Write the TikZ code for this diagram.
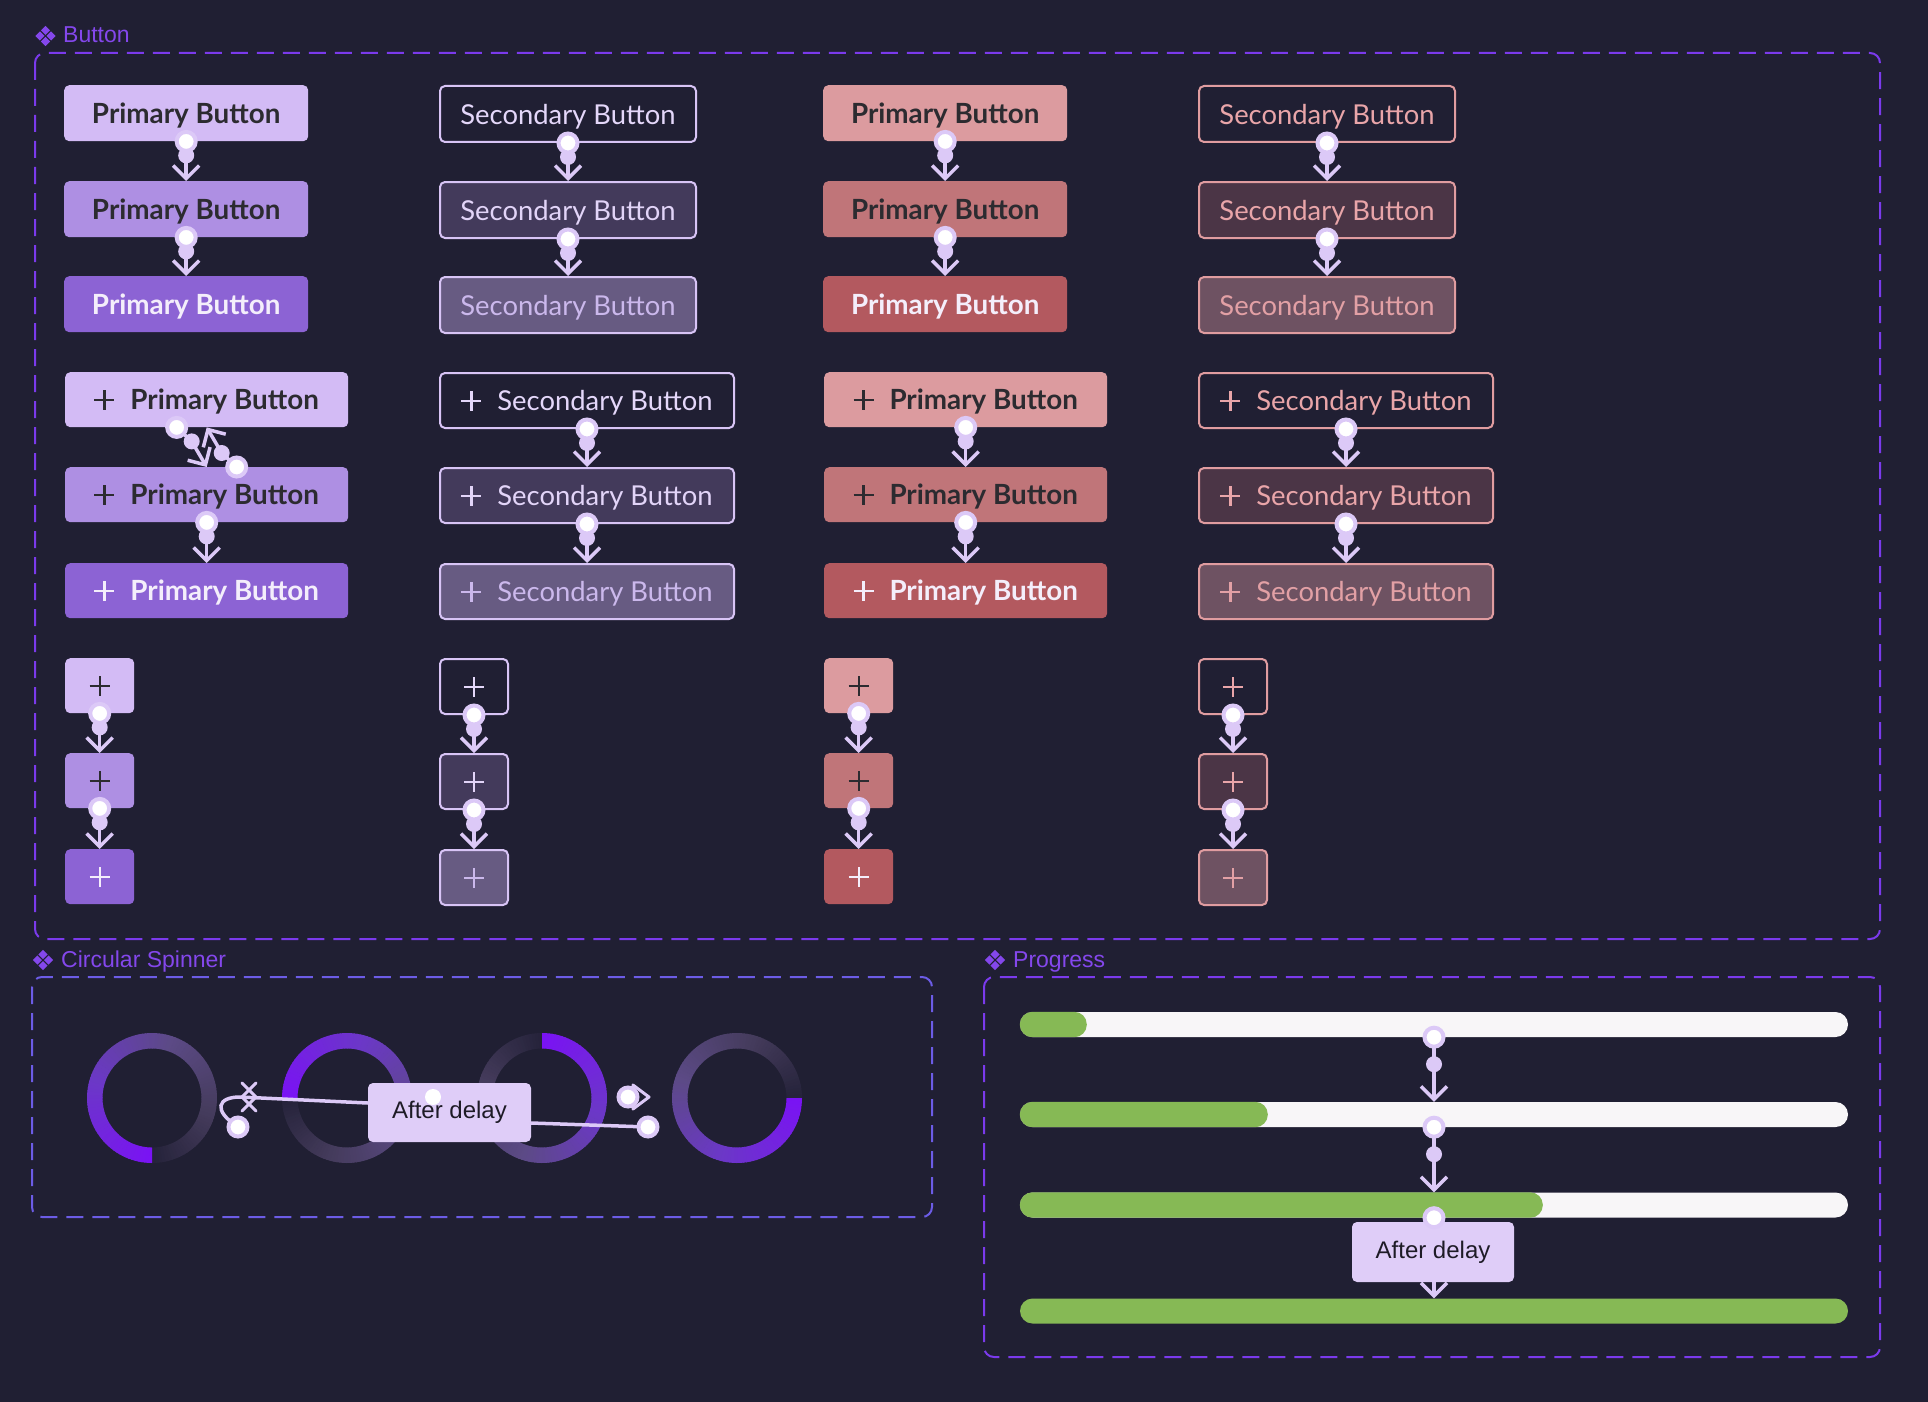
\documentclass[tikz,border=0pt]{standalone}
\usepackage{fontspec}
\setmainfont{Liberation Sans}
\newfontfamily\lato{Lato}
\usetikzlibrary{arrows.meta,calc}

\definecolor{bg}{HTML}{201F33}
\definecolor{frameA}{HTML}{7B3AEC}
\definecolor{frameB}{HTML}{6C5CE6}
\definecolor{lbl}{HTML}{8447EC}
\definecolor{conn}{HTML}{DCC9F7}
\definecolor{pp1}{HTML}{D3BBF5}
\definecolor{pp2}{HTML}{AE8FE3}
\definecolor{pp3}{HTML}{8C63D4}
\definecolor{dtxt}{HTML}{2C2B30}
\definecolor{wtxt}{HTML}{F4EEFB}
\definecolor{spb}{HTML}{D8C4F6}
\definecolor{sp2}{HTML}{433A5B}
\definecolor{sp3}{HTML}{675B82}
\definecolor{st1}{HTML}{E4D7FA}
\definecolor{st2}{HTML}{E2D4F8}
\definecolor{st3}{HTML}{CBB8EC}
\definecolor{rp1}{HTML}{DC9B9F}
\definecolor{rp2}{HTML}{C07579}
\definecolor{rp3}{HTML}{B3595F}
\definecolor{rsb}{HTML}{E09CA0}
\definecolor{rs2}{HTML}{4B3546}
\definecolor{rs3}{HTML}{6E5262}
\definecolor{rt1}{HTML}{E9A5A9}
\definecolor{rt3}{HTML}{E2A0A5}
\definecolor{boxfill}{HTML}{DFCDF8}
\definecolor{delaytxt}{HTML}{1E1B26}
\definecolor{track}{HTML}{F8F6F8}
\definecolor{barg}{HTML}{86B955}
\definecolor{spA}{HTML}{7A12F5}
\definecolor{spB}{HTML}{6B38C6}
\definecolor{spC}{HTML}{5C4A86}
\definecolor{spD}{HTML}{443B5B}
\definecolor{spE}{HTML}{25233A}

\newcommand\plusic{\makebox[20pt][l]{\rlap{\rule[8.8pt]{20pt}{2.4pt}}\hspace*{8.8pt}\rule{2.4pt}{20pt}}}

\newcommand\gradseg[5]{%
  \foreach \k in {1,...,#3}{%
    \pgfmathsetmacro\aa{#2+3*(\k-1)}%
    \pgfmathsetmacro\bb{#2+3*\k+0.6}%
    \pgfmathtruncatemacro\pp{100-100*(\k-0.5)/#3}%
    \fill[#4!\pp!#5] ($(#1)+(\aa:49.5)$) -- ($(#1)+(\aa:65)$) -- ($(#1)+(\bb:65)$) -- ($(#1)+(\bb:49.5)$) -- cycle;
  }}
\newcommand\spinnerring[2]{%
  \pgfmathsetmacro\sD{#2+288}\gradseg{#1}{\sD}{24}{spD}{spE}%
  \pgfmathsetmacro\sC{#2+198}\gradseg{#1}{\sC}{30}{spC}{spD}%
  \pgfmathsetmacro\sB{#2+108}\gradseg{#1}{\sB}{30}{spB}{spC}%
  \gradseg{#1}{#2}{36}{spA}{spB}%
}
\newcommand\diamic[2]{%
  \foreach \dx/\dy in {-5.6/0,5.6/0,0/-5.6,0/5.6}{%
    \fill[lbl] ($(#1,#2)+(\dx,\dy)+(-4.6,0)$) -- ++(4.6,-4.6) -- ++(4.6,4.6) -- ++(-4.6,4.6) -- cycle;
  }}

\tikzset{
  frame/.style={line width=2pt, dash pattern=on 17pt off 9pt, rounded corners=10pt},
  lbltext/.style={anchor=base west, inner sep=0pt, text=lbl, font=\fontsize{23}{27}\selectfont},
  btn/.style={rectangle, rounded corners=5pt, anchor=north west, inner sep=0pt, minimum height=55pt, text height=20.5pt, text depth=0pt},
  pri/.style={btn, font=\lato\bfseries\fontsize{27.8}{33}\selectfont},
  sec/.style={btn, line width=2pt, font=\lato\fontsize{27.4}{33}\selectfont},
  connl/.style={draw=conn, line width=3.5pt, -{Straight Barb[length=13pt,width=26pt]}},
  conn2/.style={draw=conn, line width=3.5pt, line cap=round},
  ringc/.style={circle, fill=white, draw=conn, line width=4pt, minimum size=19pt, inner sep=0pt},
  dotc/.style={circle, fill=conn, minimum size=16pt, inner sep=0pt},
  delaybox/.style={rectangle, rounded corners=5pt, fill=boxfill, text=delaytxt, font=\fontsize{24}{28}\selectfont, inner sep=0pt},
  bartrack/.style={rectangle, rounded corners=12.5pt, minimum width=828pt, minimum height=25pt, inner sep=0pt},
}

\newcommand\vlink[2]{%
  \draw[connl] (#1.south) -- (#2.north);
  \node[dotc] (#1#2d) at ($(#1.south)+(0,14)$) {};
  \node[ringc] (#1#2r) at (#1.south) {};
}

\begin{document}
\begin{tikzpicture}[x=1pt,y=-1pt]
\useasboundingbox (0,0) rectangle (1928,1402);
\fill[bg] (0,0) rectangle (1928,1402);

% ---------- frames and labels ----------
\draw[frame, draw=frameA] (35,53) rectangle (1880,939);
\draw[frame, draw=frameB] (32,977) rectangle (932,1217);
\draw[frame, draw=frameA] (984,977) rectangle (1880,1357);
\diamic{45.5}{36}
\node[lbltext] (lb1) at (63,43) {Button};
\diamic{43}{960}
\node[lbltext] (lb2) at (61,967) {Circular Spinner};
\diamic{995}{960}
\node[lbltext] (lb3) at (1013,967) {Progress};

% ---------- text buttons ----------
\node[pri, fill=pp1, text=dtxt, minimum width=244pt, minimum height=56pt] (a1) at (64,85) {Primary Button};
\node[pri, fill=pp2, text=dtxt, minimum width=244pt, minimum height=56pt] (a2) at (64,181) {Primary Button};
\node[pri, fill=pp3, text=wtxt, minimum width=244pt, minimum height=56pt] (a3) at (64,276) {Primary Button};

\node[sec, draw=spb, text=st1, minimum width=256pt, minimum height=56pt] (b1) at (439,85) {Secondary Button};
\node[sec, draw=spb, fill=sp2, text=st2, minimum width=256pt, minimum height=56pt] (b2) at (439,181) {Secondary Button};
\node[sec, draw=spb, fill=sp3, text=st3, minimum width=256pt, minimum height=56pt] (b3) at (439,276) {Secondary Button};

\node[pri, fill=rp1, text=dtxt, minimum width=244pt, minimum height=56pt] (c1) at (823,85) {Primary Button};
\node[pri, fill=rp2, text=dtxt, minimum width=244pt, minimum height=56pt] (c2) at (823,181) {Primary Button};
\node[pri, fill=rp3, text=wtxt, minimum width=244pt, minimum height=56pt] (c3) at (823,276) {Primary Button};

\node[sec, draw=rsb, text=rt1, minimum width=256pt, minimum height=56pt] (d1) at (1198,85) {Secondary Button};
\node[sec, draw=rsb, fill=rs2, text=rt1, minimum width=256pt, minimum height=56pt] (d2) at (1198,181) {Secondary Button};
\node[sec, draw=rsb, fill=rs3, text=rt3, minimum width=256pt, minimum height=56pt] (d3) at (1198,276) {Secondary Button};

% ---------- plus buttons ----------
\node[pri, fill=pp1, text=dtxt, minimum width=283pt] (a4) at (65,372) {\plusic\hspace{16pt}Primary Button};
\node[pri, fill=pp2, text=dtxt, minimum width=283pt] (a5) at (65,467) {\plusic\hspace{16pt}Primary Button};
\node[pri, fill=pp3, text=wtxt, minimum width=283pt] (a6) at (65,563) {\plusic\hspace{16pt}Primary Button};

\node[sec, draw=spb, text=st1, minimum width=294pt] (b4) at (439,372) {\plusic\hspace{16pt}Secondary Button};
\node[sec, draw=spb, fill=sp2, text=st2, minimum width=294pt] (b5) at (439,467) {\plusic\hspace{16pt}Secondary Button};
\node[sec, draw=spb, fill=sp3, text=st3, minimum width=294pt] (b6) at (439,563) {\plusic\hspace{16pt}Secondary Button};

\node[pri, fill=rp1, text=dtxt, minimum width=283pt] (c4) at (824,372) {\plusic\hspace{16pt}Primary Button};
\node[pri, fill=rp2, text=dtxt, minimum width=283pt] (c5) at (824,467) {\plusic\hspace{16pt}Primary Button};
\node[pri, fill=rp3, text=wtxt, minimum width=283pt] (c6) at (824,563) {\plusic\hspace{16pt}Primary Button};

\node[sec, draw=rsb, text=rt1, minimum width=294pt] (d4) at (1198,372) {\plusic\hspace{16pt}Secondary Button};
\node[sec, draw=rsb, fill=rs2, text=rt1, minimum width=294pt] (d5) at (1198,467) {\plusic\hspace{16pt}Secondary Button};
\node[sec, draw=rsb, fill=rs3, text=rt3, minimum width=294pt] (d6) at (1198,563) {\plusic\hspace{16pt}Secondary Button};

% ---------- icon buttons ----------
\node[pri, fill=pp1, text=dtxt, minimum width=69pt] (a7) at (65,658) {\plusic};
\node[pri, fill=pp2, text=dtxt, minimum width=69pt] (a8) at (65,753) {\plusic};
\node[pri, fill=pp3, text=wtxt, minimum width=69pt] (a9) at (65,849) {\plusic};

\node[sec, draw=spb, text=st1, minimum width=68pt] (b7) at (439,658) {\plusic};
\node[sec, draw=spb, fill=sp2, text=st2, minimum width=68pt] (b8) at (439,753) {\plusic};
\node[sec, draw=spb, fill=sp3, text=st3, minimum width=68pt] (b9) at (439,849) {\plusic};

\node[pri, fill=rp1, text=dtxt, minimum width=69pt] (c7) at (824,658) {\plusic};
\node[pri, fill=rp2, text=dtxt, minimum width=69pt] (c8) at (824,753) {\plusic};
\node[pri, fill=rp3, text=wtxt, minimum width=69pt] (c9) at (824,849) {\plusic};

\node[sec, draw=rsb, text=rt1, minimum width=68pt] (d7) at (1198,658) {\plusic};
\node[sec, draw=rsb, fill=rs2, text=rt1, minimum width=68pt] (d8) at (1198,753) {\plusic};
\node[sec, draw=rsb, fill=rs3, text=rt3, minimum width=68pt] (d9) at (1198,849) {\plusic};

% ---------- button connectors ----------
\vlink{a1}{a2}\vlink{a2}{a3}
\vlink{b1}{b2}\vlink{b2}{b3}
\vlink{c1}{c2}\vlink{c2}{c3}
\vlink{d1}{d2}\vlink{d2}{d3}
\vlink{a5}{a6}
\vlink{b4}{b5}\vlink{b5}{b6}
\vlink{c4}{c5}\vlink{c5}{c6}
\vlink{d4}{d5}\vlink{d5}{d6}
\vlink{a7}{a8}\vlink{a8}{a9}
\vlink{b7}{b8}\vlink{b8}{b9}
\vlink{c7}{c8}\vlink{c8}{c9}
\vlink{d7}{d8}\vlink{d8}{d9}

% crossing pair between a4 and a5
\coordinate (xP) at ($(a4.south)+(-30,0)$);
\coordinate (xQ) at ($(a5.north)+(30,0)$);
\draw[connl] (xP) -- ($(xP)+(15,14)$) -- (a5.north);
\draw[connl] (xQ) -- ($(xQ)+(-15,-14)$) -- (a4.south);
\node[dotc] (xPd) at ($(xP)+(15,14)$) {};
\node[dotc] (xQd) at ($(xQ)+(-15,-14)$) {};
\node[ringc] (xPr) at (xP) {};
\node[ringc] (xQr) at (xQ) {};

% ---------- circular spinners ----------
\coordinate (s1) at (152,1098);
\coordinate (s2) at (347,1098);
\coordinate (s3) at (542,1098);
\coordinate (s4) at (737,1098);
\spinnerring{s1}{90}
\spinnerring{s2}{180}
\spinnerring{s3}{270}
\spinnerring{s4}{360}

\node[delaybox, minimum width=163pt, minimum height=59pt] (sd) at (449.5,1112.5) {After delay};
\coordinate (sa) at (238,1127);
\coordinate (sb) at (648,1127);
\coordinate (sc) at (628,1097);
\draw[conn2] (sa) .. controls (212,1110) and (218,1097) .. (240,1097) -- ($(sd.west)+(0,-9.5)$);
\draw[conn2, line width=3pt] (242,1083) -- (256,1097) (256,1083) -- (242,1097)
                             (242,1097) -- (256,1111) (256,1097) -- (242,1111);
\draw[conn2] ($(sd.east)+(0,10.5)$) -- (sb);
\draw[draw=conn, fill=bg, line width=3pt, line join=round] (633,1085) -- (649,1097) -- (633,1109) -- cycle;
\node[ringc] (sar) at (sa) {};
\node[ringc] (sbr) at (sb) {};
\node[ringc] (scr) at (sc) {};
\node[circle, fill=white, minimum size=16pt, inner sep=0pt] (sdw) at (433,1097) {};

% ---------- progress ----------
\node[bartrack, fill=track] (g1) at (1434,1024.5) {};
\node[bartrack, fill=track] (g2) at (1434,1114.5) {};
\node[bartrack, fill=track] (g3) at (1434,1205) {};
\node[bartrack, fill=barg] (g4) at (1434,1311) {};
\fill[barg, rounded corners=12.5pt] (g1.north west) rectangle ($(g1.south west)+(67,0)$);
\fill[barg, rounded corners=12.5pt] (g2.north west) rectangle ($(g2.south west)+(248,0)$);
\fill[barg, rounded corners=12.5pt] (g3.north west) rectangle ($(g3.south west)+(523,0)$);

\draw[connl] (g1.south) -- (g2.north);
\node[dotc] (g1d) at ($(g1.south)+(0,27)$) {};
\node[ringc] (g1r) at (g1.south) {};
\draw[connl] (g2.south) -- (g3.north);
\node[dotc] (g2d) at ($(g2.south)+(0,27)$) {};
\node[ringc] (g2r) at (g2.south) {};
\draw[connl] (g3.south) -- (g4.north);
\node[delaybox, minimum width=162pt, minimum height=60pt] (pd) at (1433,1252) {After delay};
\node[ringc] (g3r) at (g3.south) {};
\end{tikzpicture}
\end{document}
